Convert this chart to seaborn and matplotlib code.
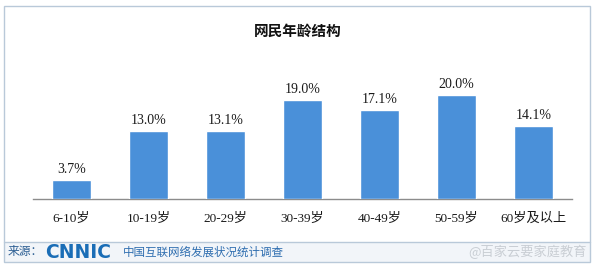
import matplotlib
matplotlib.use("Agg")
import matplotlib.pyplot as plt
from matplotlib.patches import Rectangle
import seaborn as sns
import pandas as pd

categories = ["6-10岁", "10-19岁", "20-29岁", "30-39岁", "40-49岁", "50-59岁", "60岁及以上"]
values = [3.7, 13.0, 13.1, 19.0, 17.1, 20.0, 14.1]
value_labels = ["3.7%", "13.0%", "13.1%", "19.0%", "17.1%", "20.0%", "14.1%"]
title = "网民年龄结构"
source_label = "来源："
logo_text = "CNNIC"
source_text = "中国互联网络发展状况统计调查"
watermark_text = "@百家云要家庭教育"

sns.set_theme(style="white")
FAM = ["Liberation Serif", "Noto Sans CJK SC", "DejaVu Sans"]
plt.rcParams["font.family"] = FAM

W, H = 600, 275
fig = plt.figure(figsize=(6, 2.75), dpi=100)
fig.patch.set_facecolor("white")

def fx(px):
    return px / W

def fy(py):
    return 1 - py / H

# outer frame and footer band
fig.patches.append(Rectangle((fx(4), fy(262)), fx(590) - fx(4), fy(242) - fy(262),
                             transform=fig.transFigure, facecolor="#f2f5f9",
                             edgecolor="none", zorder=0))
fig.patches.append(Rectangle((fx(4), fy(262)), fx(590) - fx(4), fy(6) - fy(262),
                             transform=fig.transFigure, facecolor="none",
                             edgecolor="#b9c9d9", linewidth=1.0, zorder=1))
fig.lines.append(plt.Line2D([fx(4), fx(590)], [fy(242), fy(242)],
                            transform=fig.transFigure, color="#b9c9d9", linewidth=1.0))

# main axes
ax_left, ax_right = 33, 572
base_y, top_y = 199, 69
ax = fig.add_axes([fx(ax_left), fy(base_y), fx(ax_right) - fx(ax_left), fy(top_y) - fy(base_y)])
ax.set_facecolor("none")

df = pd.DataFrame({"cat": categories, "val": values})
sns.barplot(data=df, x="cat", y="val", color="#4a90d9", width=0.5, saturation=1,
            ax=ax, zorder=3)

for i, (v, lab) in enumerate(zip(values, value_labels)):
    ax.annotate(lab, (i, v), xytext=(0, 3), textcoords="offset points",
                ha="center", va="bottom", fontsize=10, color="#1a1a1a", family=FAM)

ax.set_xlim(-0.5, len(categories) - 0.5)
ax.set_ylim(0, 25)
ax.set_xlabel("")
ax.set_ylabel("")
ax.set_yticks([])
for s in ["top", "right", "left"]:
    ax.spines[s].set_visible(False)
ax.spines["bottom"].set_color("#8c8c8c")
ax.spines["bottom"].set_linewidth(1.0)

ax.set_xticks(range(len(categories)))
ax.set_xticklabels(categories, fontsize=9.5, color="#1a1a1a")
ax.tick_params(axis="x", which="major", length=0, pad=10)
ax.set_xticks([i - 0.5 for i in range(len(categories) + 1)], minor=True)
ax.tick_params(axis="x", which="minor", length=4, width=1.0, color="#8c8c8c", direction="out")

# title
fig.text(fx(298), fy(31), title, ha="center", va="center", fontsize=10.5,
         weight="bold", color="#111111", family=["Noto Sans CJK SC"])

# footer
fig.text(fx(8), fy(252), source_label, ha="left", va="center", fontsize=8.5,
         color="#2a5d92", family=["Noto Sans CJK SC"])
fig.text(fx(45), fy(252), logo_text, ha="left", va="center", fontsize=13.5,
         weight="heavy", color="#1a6db6", family="DejaVu Sans")
fig.text(fx(123), fy(252), source_text, ha="left", va="center", fontsize=8.3,
         color="#2f6eb0", family=["Noto Sans CJK SC"])
fig.text(fx(587), fy(252), watermark_text, ha="right", va="center", fontsize=9.5,
         color="#c9ced4", family=["Noto Sans CJK SC", "DejaVu Sans"])

fig.savefig("out.png", dpi=100, facecolor="white")
